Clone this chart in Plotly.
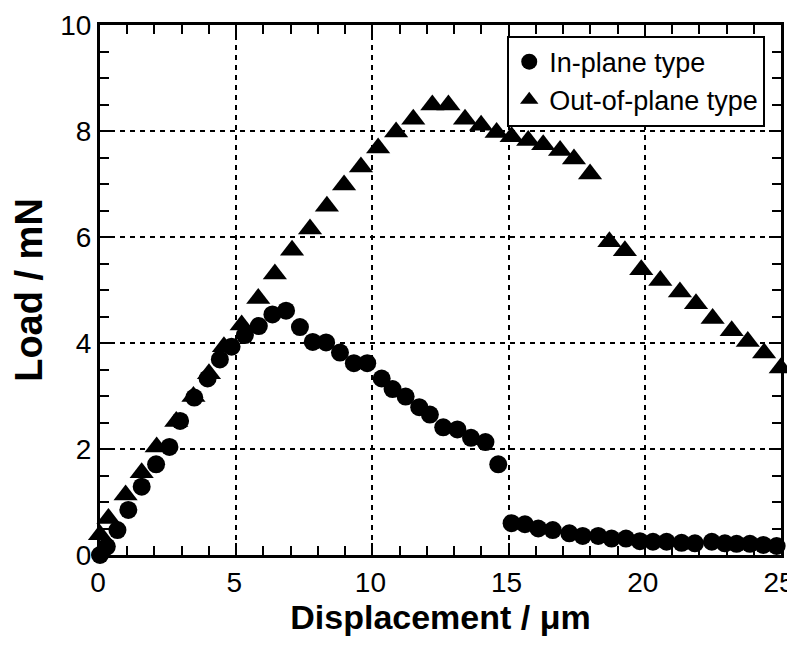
import plotly.graph_objects as go

inplane_x = [0.0, 0.25, 0.64, 1.04, 1.53, 2.06, 2.55, 2.94, 3.46, 3.95, 4.40, 4.83, 5.32, 5.83,
             6.33, 6.83, 7.34, 7.81, 8.30, 8.81, 9.32, 9.81, 10.34, 10.74, 11.22, 11.72, 12.11,
             12.60, 13.12, 13.62, 14.15, 14.62, 15.11, 15.60, 16.09, 16.62, 17.23, 17.72, 18.29,
             18.78, 19.31, 19.82, 20.30, 20.80, 21.35, 21.84, 22.46, 22.94, 23.37, 23.86, 24.35, 24.84]
inplane_y = [0.0, 0.16, 0.47, 0.85, 1.29, 1.71, 2.04, 2.53, 2.97, 3.33, 3.69, 3.93, 4.15, 4.32,
             4.54, 4.61, 4.30, 4.02, 4.01, 3.82, 3.62, 3.62, 3.33, 3.13, 2.99, 2.79, 2.65,
             2.41, 2.37, 2.21, 2.13, 1.71, 0.60, 0.58, 0.50, 0.47, 0.41, 0.36, 0.36,
             0.31, 0.31, 0.26, 0.25, 0.25, 0.23, 0.22, 0.25, 0.22, 0.21, 0.21, 0.19, 0.17]

outplane_x = [0.0, 0.31, 0.94, 1.53, 2.08, 2.80, 3.43, 4.00, 4.55, 5.20, 5.81, 6.42, 7.05, 7.71,
              8.33, 8.96, 9.58, 10.21, 10.87, 11.50, 12.20, 12.79, 13.40, 13.99, 14.56, 15.11,
              15.72, 16.27, 16.89, 17.40, 17.99, 18.70, 19.27, 19.87, 20.57, 21.29, 21.88, 22.49,
              23.19, 23.78, 24.38, 24.99]
outplane_y = [0.38, 0.69, 1.13, 1.55, 2.04, 2.52, 2.99, 3.42, 3.93, 4.34, 4.84, 5.30, 5.75, 6.15,
              6.58, 6.98, 7.32, 7.68, 7.98, 8.22, 8.49, 8.49, 8.22, 8.11, 7.97, 7.89,
              7.82, 7.74, 7.63, 7.47, 7.19, 5.91, 5.74, 5.38, 5.18, 4.96, 4.74, 4.46,
              4.23, 4.03, 3.81, 3.53]

x_ticks = [0, 5, 10, 15, 20, 25]
y_ticks = [0, 2, 4, 6, 8, 10]

FONT = "Arial, Liberation Sans, sans-serif"

fig = go.Figure()
fig.add_trace(go.Scatter(
    x=outplane_x, y=outplane_y, mode="markers", name="Out-of-plane type",
    marker=dict(symbol="triangle-up", size=21, color="black"),
    cliponaxis=False, legendrank=2,
))
fig.add_trace(go.Scatter(
    x=inplane_x, y=inplane_y, mode="markers", name="In-plane type",
    marker=dict(symbol="circle", size=18, color="black"),
    cliponaxis=False, legendrank=1,
))

axis_common = dict(
    showline=True, linecolor="black", linewidth=3, mirror="allticks",
    ticks="inside", ticklen=12, tickwidth=2, tickcolor="black",
    showgrid=True, gridcolor="black", gridwidth=1.5, griddash="5px,5px",
    zeroline=False, automargin=False, ticklabeloverflow="allow",
    tickfont=dict(family=FONT, size=28, color="black"),
)

fig.update_xaxes(
    range=[0, 25], tickvals=x_ticks, ticktext=[str(v) for v in x_ticks],
    ticklabelshift=-2,
    minor=dict(dtick=1, ticks="inside", ticklen=9, tickwidth=2, tickcolor="black", showgrid=False),
    title=dict(text="<b>Displacement / μm</b>", font=dict(family=FONT, size=34, color="black"), standoff=3),
    **axis_common,
)
fig.update_yaxes(
    range=[0, 10], tickvals=y_ticks, ticktext=[str(v) for v in y_ticks],
    minor=dict(dtick=0.5, ticks="inside", ticklen=9, tickwidth=2, tickcolor="black", showgrid=False),
    title=dict(text="<b>Load / mN</b>", font=dict(family=FONT, size=38, color="black"), standoff=14),
    **axis_common,
)

# the page body adds an 8px offset, so margins are compensated
fig.update_layout(
    width=795, height=648,
    margin=dict(l=92, r=22, t=17, b=101),
    plot_bgcolor="white", paper_bgcolor="white",
    showlegend=True,
    legend=dict(
        x=0.598, y=0.98, xanchor="left", yanchor="top",
        bgcolor="white", bordercolor="black", borderwidth=2,
        font=dict(family=FONT, size=27, color="black"),
        itemsizing="trace",
    ),
)

fig.write_html("out.html")
